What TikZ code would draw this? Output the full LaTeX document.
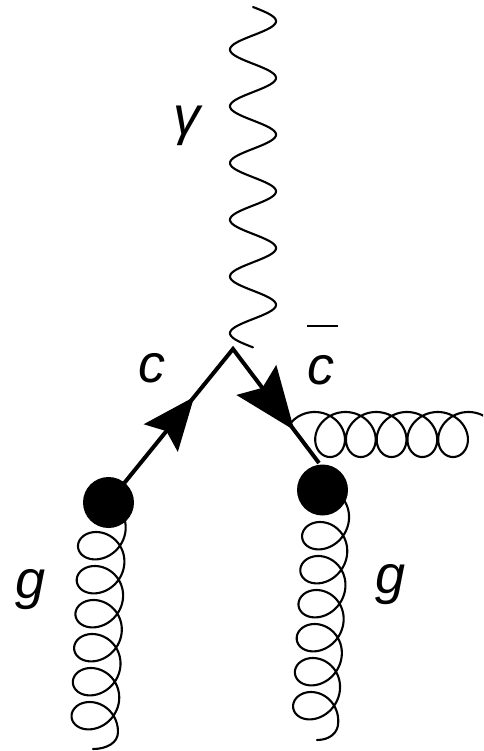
\documentclass[tikz,border=0pt]{standalone}
\usepackage{fontspec}
\setmainfont{Liberation Sans}
\usetikzlibrary{decorations.markings}
\begin{document}
\begin{tikzpicture}[x=1pt,y=-1pt,
  fermion/.style={line width=4pt},
  boson/.style={line width=2.1pt, line join=round, line cap=round},
  blob/.style={circle, fill=black, minimum size=51pt, inner sep=0pt},
  lbl/.style={inner sep=0pt, font=\fontsize{54}{60}\selectfont\itshape}
]
\useasboundingbox (0,0) rectangle (483,751);
\clip (0,0) rectangle (483,751);

\coordinate (ptop) at (253,7);
\coordinate (pbot) at (253,347.4);
\coordinate (vtx) at (233,349);
\coordinate (qend) at (319,463);
\coordinate (gl0) at (103.3,498.7);
\coordinate (gl1) at (93,749);
\coordinate (gr0) at (327.6,488.7);
\coordinate (gr1) at (317,740);
\coordinate (gh0) at (285,434.5);

% photon (from ptop down to pbot)
\begin{scope}[shift={(ptop)}]
  \draw[boson] plot[domain=0:340.4, samples=400, variable=\t]
    ({23*sin(6.3455*\t)}, {\t});
\end{scope}

% left gluon
\begin{scope}[shift={(gl0)}]
  \draw[boson] plot[domain=0:39.27, samples=700, variable=\t]
    ({23.5*sin(\t r) - 0.038*(34*\t/6.28319 + 21.5*(1-cos(\t r)))},
     {34*\t/6.28319 + 21.5*(1-cos(\t r))})
    .. controls +(0,10) and +(14,0) .. (gl1);
\end{scope}

% right gluon
\begin{scope}[shift={(gr0)}]
  \draw[boson] plot[domain=0:39.27, samples=700, variable=\t]
    ({23*sin(\t r) - 0.053*(34*\t/6.28319 + 21.5*(1-cos(\t r)))},
     {34*\t/6.28319 + 21.5*(1-cos(\t r))})
    .. controls +(0,10) and +(13,0) .. (gr1);
\end{scope}

% horizontal gluon
\begin{scope}[shift={(gh0)}]
  \draw[boson] plot[domain=0.45:34.56, samples=600, variable=\t]
    ({30.75*\t/6.28319 + 22*(1-cos(\t r))}, {-22.5*sin(\t r)});
\end{scope}

% blobs
\node[blob] (bL) at (108.5,502.5) {};
\node[blob] (bR) at (322.5,490) {};

% fermion line with arrows
\draw[fermion, postaction={decorate}, decoration={markings,
    mark=at position 0.3992 with {\fill (0,0) -- (-53,22) -- (-44,0) -- (-53,-22) -- cycle;},
    mark=at position 0.8793 with {\fill (0,0) -- (-63,25) -- (-53,0) -- (-63,-25) -- cycle;}}]
  (bL.center) -- (vtx) -- (qend);

% labels
\node[lbl, anchor=base] (lgamma) at (187,135) {γ};
\node[lbl, anchor=base] (lc) at (152,382) {c};
\node[lbl, anchor=north west] (lcbar) at (307,325) {\vbox{\hrule width 31pt height 1.8pt\vskip 28pt\hbox{c}}};
\node[lbl, anchor=base] (lgL) at (31,598) {g};
\node[lbl, anchor=base] (lgR) at (391,593) {g};
\end{tikzpicture}
\end{document}
